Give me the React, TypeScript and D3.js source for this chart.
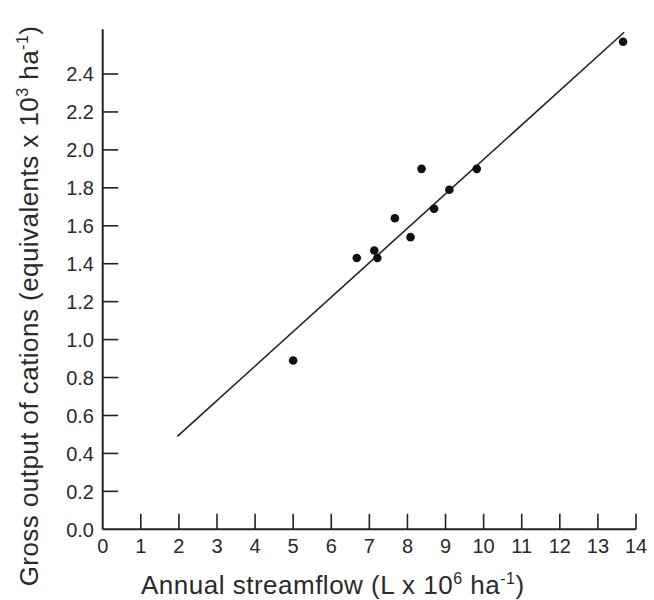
import React from "react";
import * as d3 from "d3";

const streamflow = [5.0, 6.67, 7.13, 7.21, 7.67, 8.08, 8.37, 8.7, 9.1, 9.82, 13.66];
const cations = [0.89, 1.43, 1.47, 1.43, 1.64, 1.54, 1.9, 1.69, 1.79, 1.9, 2.57];
const fitX = [1.96, 13.69];
const fitY = [0.49, 2.62];
const xTicks = [0, 1, 2, 3, 4, 5, 6, 7, 8, 9, 10, 11, 12, 13, 14];
const yTicks = [0.0, 0.2, 0.4, 0.6, 0.8, 1.0, 1.2, 1.4, 1.6, 1.8, 2.0, 2.2, 2.4];

const W = 654;
const H = 600;
const ink = "#222";
const textInk = "#2a2a2a";
const font = "'Liberation Sans', Arial, sans-serif";

export default function App() {
  const x = d3.scaleLinear().domain([0, 14]).range([102.7, 636]);
  const y = d3.scaleLinear().domain([0, 2.4]).range([529.3, 74]);
  const axisTop = 29.3;
  const tickLen = 15.5;
  const line = d3
    .line<number>()
    .x((d) => x(d))
    .y((_, i) => y(fitY[i]));

  return (
    <svg
      width={W}
      height={H}
      style={{ position: "absolute", left: 0, top: 0, background: "#fff" }}
      fontFamily={font}
    >
      {/* axes */}
      <line x1={x(0)} x2={x(0)} y1={y(0)} y2={axisTop} stroke={ink} strokeWidth={2} />
      <line x1={x(0)} x2={x(14)} y1={y(0)} y2={y(0)} stroke={ink} strokeWidth={2} />
      {xTicks.map((t) => (
        <g key={"x" + t}>
          {t > 0 && (
            <line x1={x(t)} x2={x(t)} y1={y(0)} y2={y(0) - tickLen} stroke={ink} strokeWidth={1.6} />
          )}
          <text x={x(t)} y={553} textAnchor="middle" fontSize={20} fill={textInk}>
            {t}
          </text>
        </g>
      ))}
      {yTicks.map((t) => (
        <g key={"y" + t}>
          {t > 0 && (
            <line x1={x(0)} x2={x(0) + tickLen} y1={y(t)} y2={y(t)} stroke={ink} strokeWidth={1.6} />
          )}
          <text x={94} y={y(t)} dy="0.36em" textAnchor="end" fontSize={20} fill={textInk}>
            {t.toFixed(1)}
          </text>
        </g>
      ))}
      {/* fit line */}
      <path d={line(fitX) || ""} fill="none" stroke={ink} strokeWidth={1.6} />
      {/* points */}
      {streamflow.map((v, i) => (
        <circle key={i} cx={x(v)} cy={y(cations[i])} r={4.3} fill="#111" />
      ))}
      {/* x label */}
      <text x={141} y={594} fontSize={26} letterSpacing={0.5} fill={textInk}>
        Annual streamflow (L x 10
        <tspan dy={-10} fontSize={16}>6</tspan>
        <tspan dy={10}> ha</tspan>
        <tspan dy={-10} fontSize={16}>-1</tspan>
        <tspan dy={10}>)</tspan>
      </text>
      {/* y label */}
      <text
        transform={`translate(38, ${306}) rotate(-90)`}
        textAnchor="middle"
        fontSize={26}
        letterSpacing={0.45}
        fill={textInk}
      >
        Gross output of cations (equivalents x 10
        <tspan dy={-10} fontSize={16}>3</tspan>
        <tspan dy={10}> ha</tspan>
        <tspan dy={-10} fontSize={16}>-1</tspan>
        <tspan dy={10}>)</tspan>
      </text>
    </svg>
  );
}
